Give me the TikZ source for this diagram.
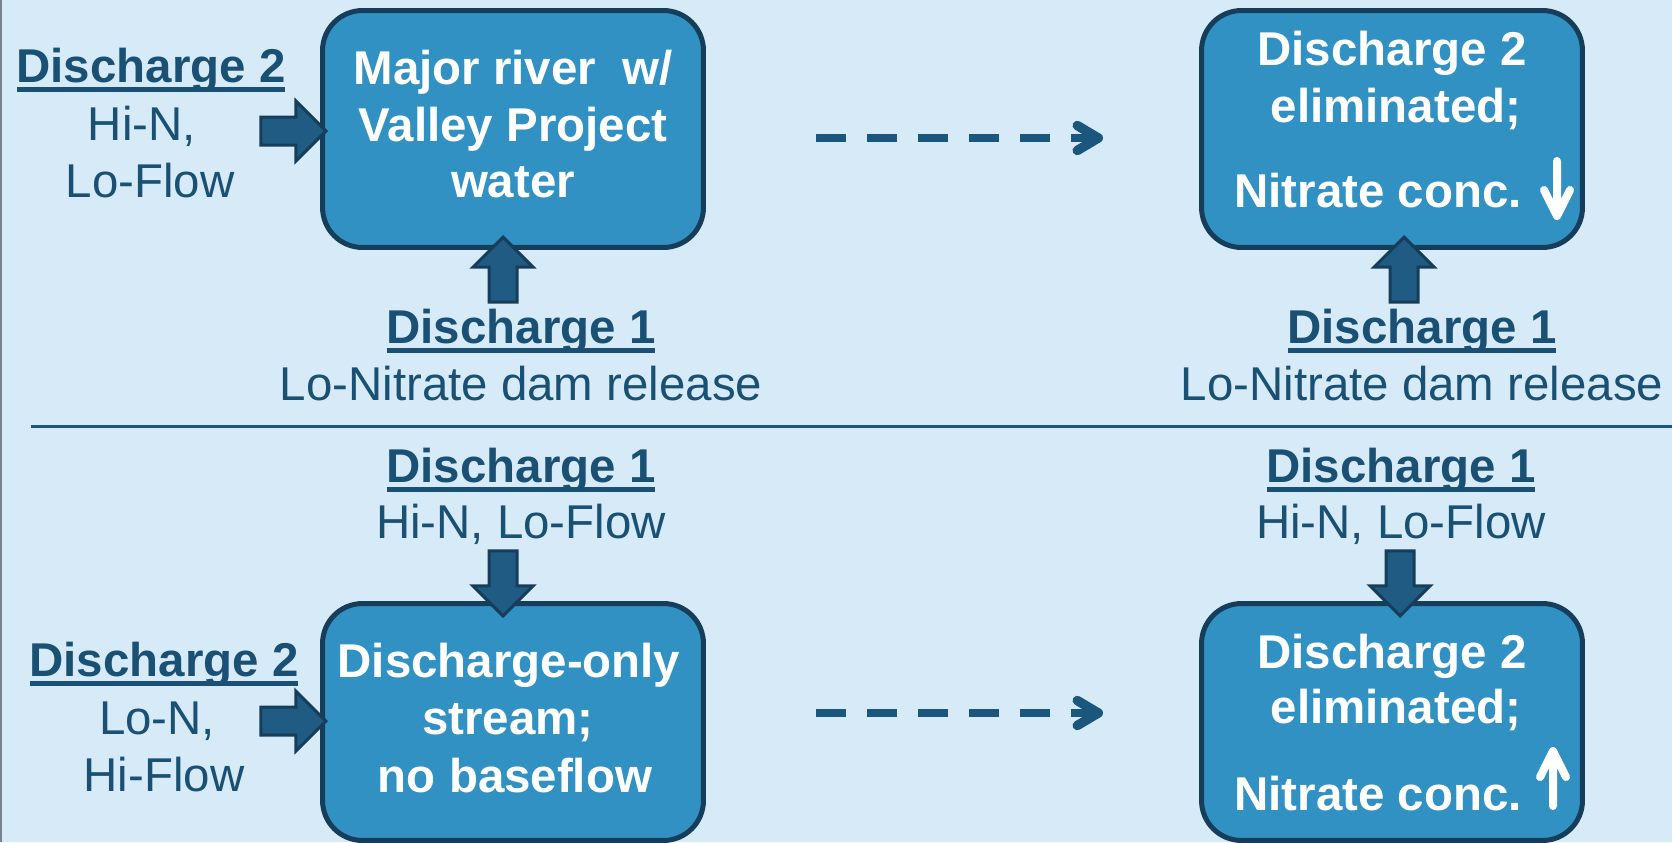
\documentclass[tikz,border=0pt]{standalone}
\usepackage{fontspec}
\setmainfont{Liberation Sans}
\usetikzlibrary{shapes.arrows,positioning,calc,arrows.meta}

\definecolor{pagebg}{RGB}{214,235,247}
\definecolor{boxfill}{RGB}{50,145,195}
\definecolor{boxedge}{RGB}{22,62,90}
\definecolor{feedfill}{RGB}{31,91,130}
\definecolor{labelblue}{RGB}{25,80,115}
\definecolor{dashblue}{RGB}{27,87,125}
\definecolor{edgegrey}{RGB}{120,130,140}

\newcommand{\slidesize}{\fontsize{27}{32}\selectfont}
% underline that sits close to the baseline
\newcommand{\dischead}[1]{\setbox0=\hbox{#1}\rlap{\rule[-0.19cm]{\wd0}{0.1cm}}\box0}

\tikzset{
    flowbox/.style={draw=boxedge, fill=boxfill, line width=0.1cm, rounded corners=0.8cm,
        minimum width=7.62cm, minimum height=4.74cm, inner sep=0pt},
    boxline/.style={text=white, font=\slidesize\bfseries, anchor=base, inner sep=0pt},
    lbl/.style={text=labelblue, font=\slidesize, anchor=base, inner sep=0pt},
    head/.style={lbl, font=\slidesize\bfseries},
    feed/.style={single arrow, draw=boxedge, fill=feedfill, line width=0.06cm,
        minimum height=1.3cm, minimum width=1.14cm, single arrow head extend=0.32cm,
        inner sep=0.25cm, anchor=tip},
    flowon/.style={draw=dashblue, line width=0.16cm, dash pattern=on 0.6cm off 0.42cm,
        -{Straight Barb[length=0.42cm, width=0.5cm, line width=0.19cm, round]}},
    trend/.style={white, line width=0.16cm, line cap=round, line join=round}
}

\begin{document}
\begin{tikzpicture}[x=0.02cm, y=-0.02cm]
    \useasboundingbox (0,0) rectangle (1672,842);
    \fill[pagebg] (0,0) rectangle (1672,842);
    \draw[edgegrey, line width=0.04cm] (1,0) -- (1,842);
    \draw[dashblue, line width=0.06cm] (31,426) -- (1672,426);

    % the four boxes
    \node [flowbox] (riverBox) at (513,129) {};
    \node [flowbox] (elimBoxA) at (1392,129) {};
    \node [flowbox] (streamBox) at (513,722) {};
    \node [flowbox] (elimBoxB) at (1392,722) {};

    \node [boxline] (riverL1) at (513,84) {Major river~ w/};
    \node [boxline] (riverL2) at (513,141) {Valley Project};
    \node [boxline] (riverL3) at (513,197) {water};

    \node [boxline] (elimA1) at (1392,65) {Discharge 2};
    \node [boxline] (elimA2) at (1396,122) {eliminated;};
    \node [boxline] (elimA3) at (1378,207) {Nitrate conc.};
    \draw [trend] (1557,161) -- (1557,216) (1544,190) -- (1557,216) -- (1570,190);

    \node [boxline] (streamL1) at (509,677) {Discharge-only};
    \node [boxline] (streamL2) at (508,734) {stream;};
    \node [boxline] (streamL3) at (515,792) {no baseflow};

    \node [boxline] (elimB1) at (1392,668) {Discharge 2};
    \node [boxline] (elimB2) at (1396,723) {eliminated;};
    \node [boxline] (elimB3) at (1378,810) {Nitrate conc.};
    \draw [trend] (1553,806) -- (1553,751) (1540,777) -- (1553,751) -- (1566,777);

    % inflow arrows
    \node [feed] (feedRiverSide) at (328,131) {};
    \node [feed, shape border rotate=90] (feedRiverBelow) at (503,235) {};
    \node [feed, shape border rotate=90] (feedElimA) at (1404,235) {};
    \node [feed, shape border rotate=270] (feedStreamTop) at (503,618) {};
    \node [feed, shape border rotate=270] (feedElimB) at (1400,618) {};
    \node [feed] (feedStreamSide) at (328,721) {};

    % discharge labels, upper half
    \node [head] (sideHeadA) at (151,82) {\dischead{Discharge 2}};
    \node [lbl] (sideHiN) at (142,140) {Hi-N,};
    \node [lbl] (sideLoFlow) at (150,197) {Lo-Flow};

    \node [head] (damHeadA) at (521,343) {\dischead{Discharge 1}};
    \node [lbl] (damTextA) at (521,400) {Lo-Nitrate dam release};
    \node [head] (damHeadB) at (1422,343) {\dischead{Discharge 1}};
    \node [lbl] (damTextB) at (1422,400) {Lo-Nitrate dam release};

    % discharge labels, lower half
    \node [head] (topHeadA) at (521,482) {\dischead{Discharge 1}};
    \node [lbl] (topTextA) at (521,538) {Hi-N, Lo-Flow};
    \node [head] (topHeadB) at (1401,482) {\dischead{Discharge 1}};
    \node [lbl] (topTextB) at (1401,538) {Hi-N, Lo-Flow};

    \node [head] (sideHeadB) at (164,676) {\dischead{Discharge 2}};
    \node [lbl] (sideLoN) at (157,734) {Lo-N,};
    \node [lbl] (sideHiFlow) at (164,791) {Hi-Flow};

    % before -> after
    \coordinate (runTopA) at (816,138);
    \coordinate (runTopB) at (1103,138);
    \coordinate (runBotA) at (816,713);
    \coordinate (runBotB) at (1103,713);
    \draw [flowon] (runTopA) -- (runTopB);
    \draw [flowon] (runBotA) -- (runBotB);
\end{tikzpicture}
\end{document}
